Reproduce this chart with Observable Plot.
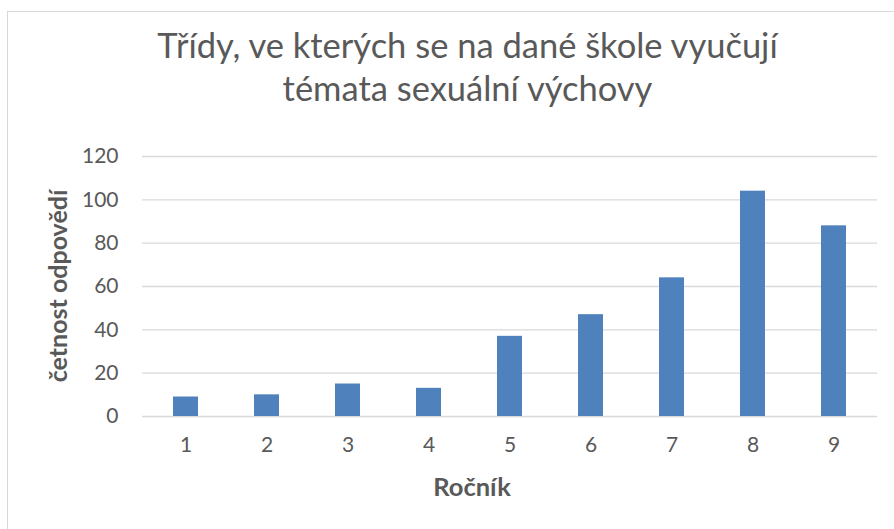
<!DOCTYPE html>
<html><head><meta charset="utf-8">
<script src="https://cdn.jsdelivr.net/npm/d3@7"></script>
<script src="https://cdn.jsdelivr.net/npm/@observablehq/plot@0.6"></script>
<style>
html,body{margin:0;padding:0;background:#fff;overflow:hidden;width:894px;height:529px;}
#frame{position:absolute;left:7px;top:11px;width:921px;height:560px;border:1px solid #d9d9d9;box-sizing:border-box;background:#fff;font-family:Lato,sans-serif;}
#title{height:109px;box-sizing:border-box;padding-top:11px;text-align:center;color:#595959;font-size:34.5px;line-height:43px;white-space:nowrap;}
#chart svg{display:block;}
#ylabel{position:absolute;left:57px;top:286px;transform:translate(-50%,-50%) rotate(-90deg);white-space:nowrap;font-family:Lato,sans-serif;font-weight:bold;font-size:25px;line-height:25px;color:#595959;}
</style></head>
<body>
<div id="frame">
  <div id="title">Třídy, ve kterých se na dané škole vyučují<br>témata sexuální výchovy</div>
  <div id="chart"></div>
</div>
<div id="ylabel"></div>
<script>
const categories = ["1","2","3","4","5","6","7","8","9"];
const values = [9, 10, 15, 13, 37, 47, 64, 104, 88];
const yTicks = [0, 20, 40, 60, 80, 100, 120];
const xLabel = "Ročník";
const yLabel = "četnost odpovědí";

const data = categories.map((c, i) => ({grade: c, count: values[i]}));

const chart = Plot.plot({
  width: 919,
  height: 408,
  marginTop: 35,
  marginBottom: 113,
  marginLeft: 134,
  marginRight: 50,
  style: {fontFamily: "Lato, sans-serif", fontSize: "21px", color: "#595959", background: "#fff"},
  x: {domain: categories, paddingInner: 0.69, paddingOuter: 0.345, axis: null},
  y: {domain: [0, 120], axis: null},
  marks: [
    Plot.gridY(yTicks, {stroke: "#d9d9d9", strokeOpacity: 1, strokeWidth: 1.3}),
    Plot.barY(data, {x: "grade", y: "count", fill: "#4f81bd"}),
    Plot.axisY(yTicks, {tickSize: 0, tickPadding: 24, label: null, fill: "#595959", fontSize: 21}),
    Plot.axisX({tickSize: 0, tickPadding: 21, label: null, fill: "#595959", fontSize: 21}),
    Plot.text([xLabel], {frameAnchor: "bottom", textAnchor: "middle", dx: -38, dy: 79, fontWeight: "bold", fontSize: 25.5, fill: "#595959"})
  ]
});
document.getElementById("chart").appendChild(chart);
document.getElementById("ylabel").textContent = yLabel;
</script>
</body></html>
